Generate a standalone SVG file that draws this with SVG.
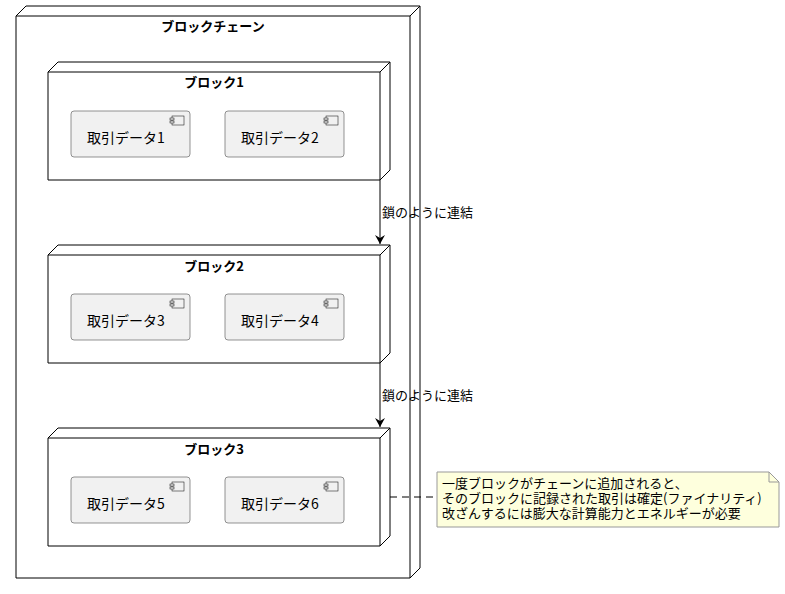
<svg xmlns="http://www.w3.org/2000/svg" width="785" height="594" viewBox="0 0 785 594">
<style>
text{font-family:"Noto Sans CJK JP","Noto Sans",sans-serif;font-size:13px;fill:#000}
.t{font-weight:bold;text-anchor:middle}
.d{font-size:14px}
.n{fill:#fff;stroke:#000;stroke-width:1}
.c{fill:#f1f1f1;stroke:#666;stroke-width:0.7}
.ic{fill:#f1f1f1;stroke:#000;stroke-width:0.5}
</style>
<defs>
<marker id="ah" markerWidth="10" markerHeight="10" refX="9" refY="5" orient="auto" markerUnits="userSpaceOnUse"><path d="M0,0 L9,5 L0,10 L3,5 Z" fill="#000"/></marker>
<g id="comp"><rect class="c" x="0" y="0" width="119" height="46" rx="3"/><rect class="ic" x="101" y="5" width="12" height="9"/><rect class="ic" x="99" y="7" width="4" height="2"/><rect class="ic" x="99" y="10" width="4" height="2"/></g>
</defs>
<g id="chain"><path class="n" d="M16,16 L26,6 L420,6 L420,568 L410,578 L16,578 Z"/><path fill="none" stroke="#000" d="M410,578 L410,16 L420,6 M16,16 L410,16"/><text class="t" x="213" y="31">ブロックチェーン</text></g>
<g id="block1"><path class="n" d="M48,72 L58,62 L390,62 L390,170 L380,180 L48,180 Z"/><path fill="none" stroke="#000" d="M380,180 L380,72 L390,62 M48,72 L380,72"/><text class="t" x="214" y="87">ブロック1</text>
<use href="#comp" x="71" y="111"/><text class="d" x="87" y="143">取引データ1</text><use href="#comp" x="225" y="111"/><text class="d" x="241" y="143">取引データ2</text></g>
<g id="block2"><path class="n" d="M48,255 L58,245 L390,245 L390,353 L380,363 L48,363 Z"/><path fill="none" stroke="#000" d="M380,363 L380,255 L390,245 M48,255 L380,255"/><text class="t" x="214" y="271">ブロック2</text>
<use href="#comp" x="71" y="294"/><text class="d" x="87" y="326">取引データ3</text><use href="#comp" x="225" y="294"/><text class="d" x="241" y="326">取引データ4</text></g>
<g id="block3"><path class="n" d="M48,438 L58,428 L390,428 L390,536 L380,546 L48,546 Z"/><path fill="none" stroke="#000" d="M380,546 L380,438 L390,428 M48,438 L380,438"/><text class="t" x="214" y="454">ブロック3</text>
<use href="#comp" x="71" y="477"/><text class="d" x="87" y="509">取引データ5</text><use href="#comp" x="225" y="477"/><text class="d" x="241" y="509">取引データ6</text></g>
<g id="note"><path d="M437,472 L769,472 L779,482 L779,527 L437,527 Z" fill="#feffdd" stroke="#999"/><path d="M769,472 L769,482 L779,482" fill="none" stroke="#999"/>
<text x="442" y="488">一度ブロックがチェーンに追加されると、</text><text x="442" y="503">そのブロックに記録された取引は確定(ファイナリティ)</text><text x="442" y="518">改ざんするには膨大な計算能力とエネルギーが必要</text></g>
<g id="connectors" stroke="#000" fill="none">
<path d="M380,180 L380,244" marker-end="url(#ah)"/><path d="M380,363 L380,427" marker-end="url(#ah)"/>
<path d="M390,497 L437,497" stroke-dasharray="7,5"/>
</g>
<text x="382" y="217">鎖のように連結</text><text x="382" y="400">鎖のように連結</text>
</svg>
